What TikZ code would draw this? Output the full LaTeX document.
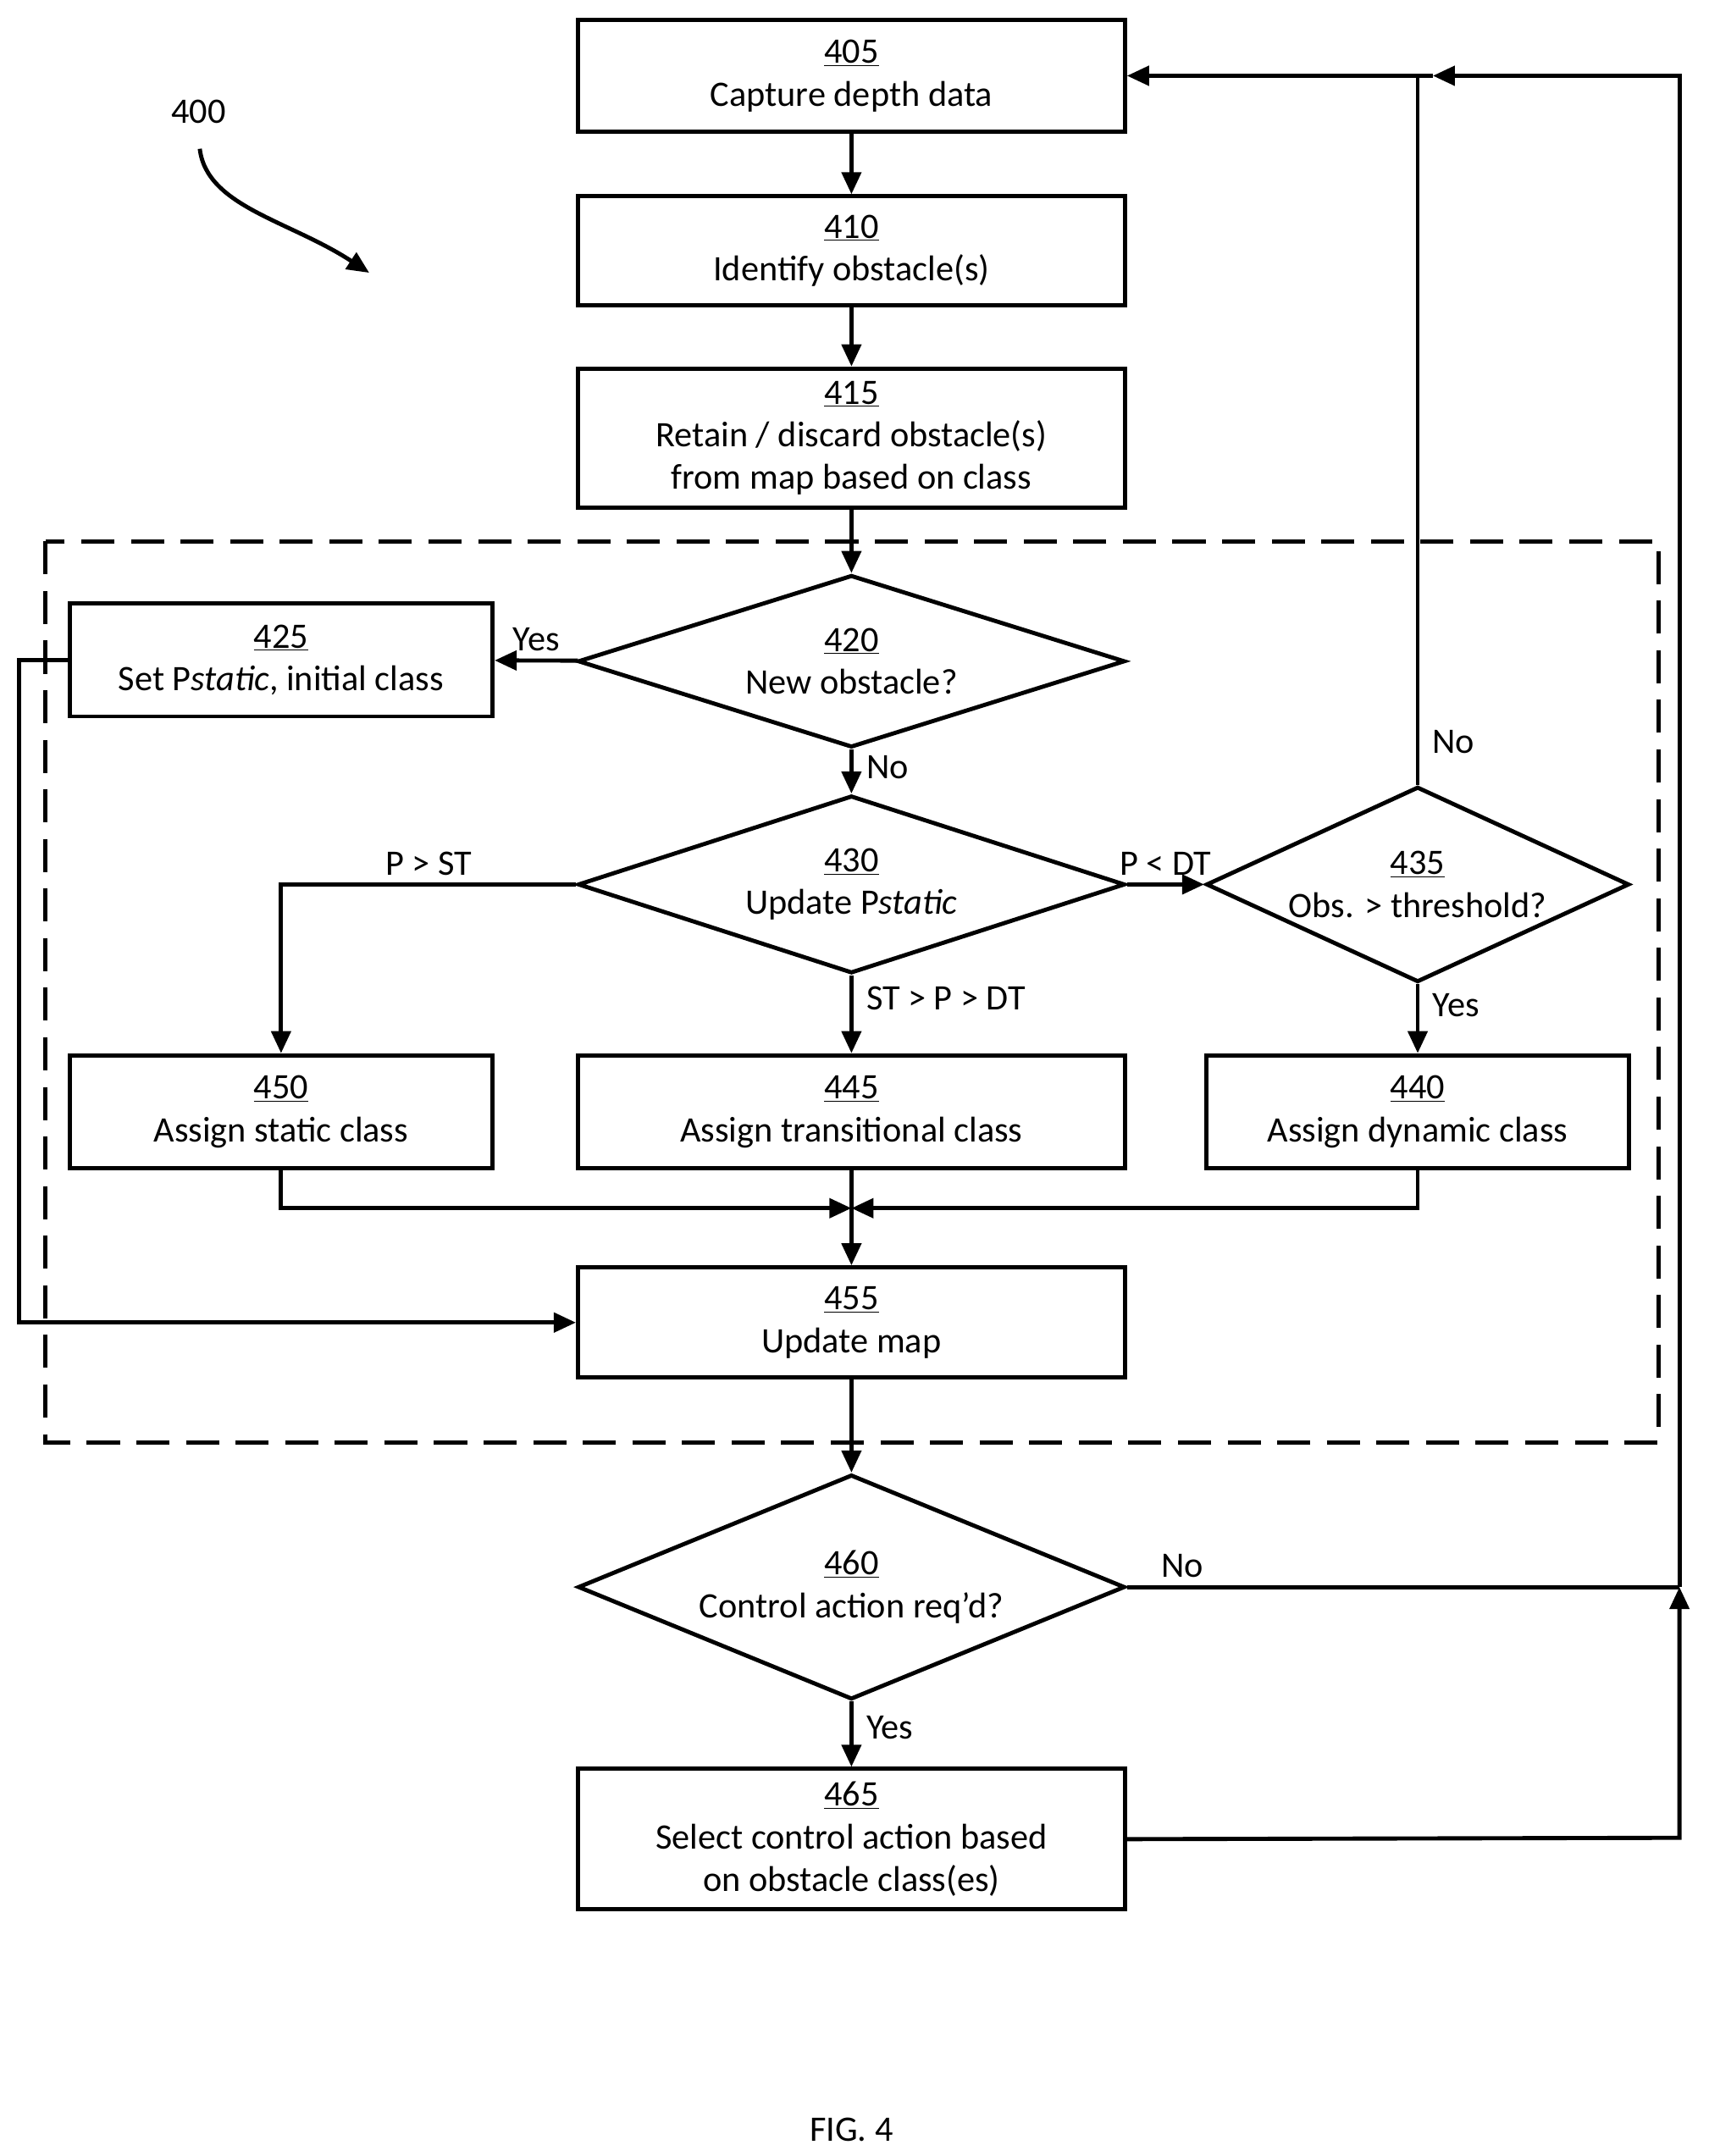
\documentclass[tikz,border=0pt]{standalone}
\usepackage{fontspec}
\setmainfont{Carlito}
\usetikzlibrary{shapes.geometric,arrows.meta}
\begin{document}
\begin{tikzpicture}[x=1pt,y=-1pt,line width=3pt,
  every node/.style={font=\fontsize{26}{31}\selectfont},
  box/.style={draw,rectangle,align=center,inner sep=0pt},
  dia/.style={draw,diamond,aspect=2,align=center,inner sep=0pt},
  arr/.style={-{Triangle[length=16pt,width=14pt]}}]
  \useasboundingbox (0,0) rectangle (1240,1565);
  % process boxes
  \node[box,minimum width=397,minimum height=81] (b405) at (618,55) {\underline{405}\\Capture depth data};
  \node[box,minimum width=397,minimum height=79] (b410) at (618,182) {\underline{410}\\Identify obstacle(s)};
  \node[box,minimum width=397,minimum height=101] (b415) at (618,318) {\underline{415}\\Retain / discard obstacle(s)\\from map based on class};
  \node[box,minimum width=307,minimum height=82] (b425) at (204,479) {\underline{425}\\Set P\textit{static}, initial class};
  \node[box,minimum width=307,minimum height=82] (b450) at (204,807) {\underline{450}\\Assign static class};
  \node[box,minimum width=397,minimum height=82] (b445) at (618,807) {\underline{445}\\Assign transitional class};
  \node[box,minimum width=307,minimum height=82] (b440) at (1029,807) {\underline{440}\\Assign dynamic class};
  \node[box,minimum width=397,minimum height=80] (b455) at (618,960) {\underline{455}\\Update map};
  \node[box,minimum width=397,minimum height=102] (b465) at (618,1335) {\underline{465}\\Select control action based\\on obstacle class(es)};
  % decisions
  \node[dia,minimum width=397,minimum height=100] (d420) at (618,480) {\underline{420}\\New obstacle?};
  \node[dia,minimum width=397,minimum height=100] (d430) at (618,642) {\underline{430}\\Update P\textit{static}};
  \node[dia,minimum width=307,minimum height=100] (d435) at (1029,642) {\underline{435}\\Obs. > threshold?};
  \node[dia,minimum width=397,minimum height=100] (d460) at (618,1152) {\underline{460}\\Control action req'd?};
  % dashed region
  \draw[dashed,dash pattern=on 24pt off 12pt] (33,393) rectangle (1204,1047);
  % helper points
  \coordinate (top) at (1029,55);
  \coordinate (rtop) at (1219,55);
  \coordinate (rmid) at (1219,1152);
  \coordinate (rbot) at (1219,1334);
  \coordinate (join) at (618,877);
  % connectors
  \draw[arr] (b405) -- (b410);
  \draw[arr] (b410) -- (b415);
  \draw[arr] (b415) -- (d420);
  \draw[arr] (d420) -- (b425) node[pos=0.5,above=2pt] {Yes};
  \draw[arr] (d420) -- (d430) node[pos=0.4,right=6pt] {No};
  \draw[arr] (d430.west) -| (b450) node[pos=0.25,above=2pt] {P > ST};
  \draw[arr] (d430) -- (d435) node[pos=0.5,above=2pt] {P < DT};
  \draw[arr] (d430) -- (b445) node[pos=0.3,right=6pt] {ST > P > DT};
  \draw[arr] (d435) -- (b440) node[pos=0.3,right=6pt] {Yes};
  \draw (d435.north) -- (top) node[pos=0.06,right=6pt] {No};
  \draw[arr] (b450) |- (join);
  \draw[arr] (b440) |- (join);
  \draw[arr] (b445) -- (b455);
  \draw[arr] (b425.west) -- (14,479) -- (14,960) -- (b455.west);
  \draw[arr] (b455) -- (d460);
  \draw[arr] (d460) -- (b465) node[pos=0.4,right=6pt] {Yes};
  \draw (d460.east) -- (rmid) node[pos=0.1,above=2pt] {No};
  \draw[arr] (b465.east) -- (rbot) -- (rmid);
  \draw[arr] (rmid) -- (rtop) -- (1040,55);
  \draw[arr] (1040,55) -- (b405.east);
  % reference label
  \node (n400) at (144,81) {400};
  \draw[arr] (145,108) .. controls (150,150) and (210,160) .. (268,198);
  \node (fig) at (618,1546) {FIG. 4};
\end{tikzpicture}
\end{document}
